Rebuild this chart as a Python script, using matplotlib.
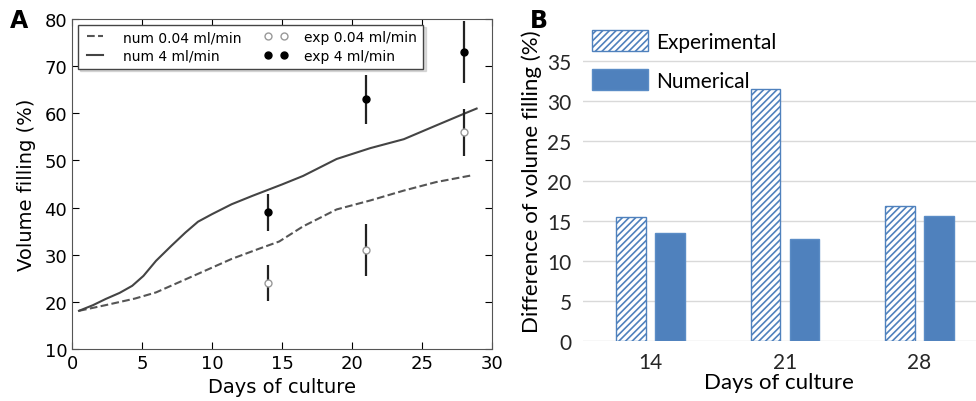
import numpy as np
import matplotlib
matplotlib.use("Agg")
import matplotlib.pyplot as plt
from matplotlib.lines import Line2D

# ---- panel A data ----
num_low_day = [0.5, 2.4, 4.5, 6.0, 7.6, 9.5, 11.4, 13.3, 14.8, 16.5, 18.9, 21.3, 23.7, 26.0, 28.5]
num_low_val = [18.1, 19.3, 20.7, 22.0, 24.1, 26.6, 29.1, 31.2, 32.8, 36.0, 39.6, 41.5, 43.6, 45.4, 46.8]
num_high_day = [0.5, 1.5, 2.4, 3.4, 4.3, 5.1, 6.0, 7.1, 8.1, 9.0, 10.0, 11.4, 12.9, 15.0,
                16.5, 18.9, 21.3, 23.7, 26.0, 28.0, 28.9]
num_high_val = [18.1, 19.3, 20.6, 21.9, 23.4, 25.5, 28.7, 31.9, 34.7, 37.0, 38.6, 40.7, 42.5, 44.9,
                46.7, 50.3, 52.6, 54.5, 57.4, 59.9, 61.0]
exp_day = [14, 21, 28]
exp_low = [24.0, 31.0, 56.0]
exp_low_err = [3.8, 5.6, 5.0]
exp_high = [39.0, 63.0, 73.0]
exp_high_err = [3.9, 5.2, 6.5]

# ---- panel B data ----
days_b = ['14', '21', '28']
diff_exp = [15.5, 31.5, 16.9]
diff_num = [13.5, 12.75, 15.6]

fig = plt.figure(figsize=(9.76, 4.02), dpi=100)

# Panel A
axA = fig.add_axes([0.0738, 0.1294, 0.4303, 0.8209])
axA.plot(num_low_day, num_low_val, '--', color='#555555', lw=1.5)
axA.plot(num_high_day, num_high_val, '-', color='#444444', lw=1.5)
axA.errorbar(exp_day, exp_low, yerr=exp_low_err, fmt='o', ecolor='#222222',
             mfc='white', mec='#999999', ms=5, elinewidth=1.6, capsize=0)
axA.errorbar(exp_day, exp_high, yerr=exp_high_err, fmt='o', ecolor='#222222',
             mfc='black', mec='black', ms=5, elinewidth=1.6, capsize=0)
axA.set_xlim(0, 30)
axA.set_ylim(10, 80)
axA.set_xticks(range(0, 31, 5))
axA.set_yticks(range(10, 81, 10))
axA.tick_params(direction='in', top=True, right=True, labelsize=13, length=5)
for s in axA.spines.values():
    s.set_color('#555555')
axA.set_xlabel('Days of culture', fontsize=14)
axA.set_ylabel('Volume filling (%)', fontsize=14, labelpad=6)

handles = [
    Line2D([], [], ls='--', color='#555555', lw=1.5),
    Line2D([], [], ls='-', color='#444444', lw=1.5),
    Line2D([], [], ls='none', marker='o', mfc='white', mec='#999999', ms=5),
    Line2D([], [], ls='none', marker='o', mfc='black', mec='black', ms=5),
]
labels = ['num 0.04 ml/min', 'num 4 ml/min', 'exp 0.04 ml/min', 'exp 4 ml/min']
axA.legend(handles, labels, ncol=2, loc='upper left', fontsize=10, numpoints=2,
           shadow={'color': '#bbbbbb', 'ox': 2, 'oy': -2}, fancybox=False,
           edgecolor='#444444', framealpha=1, borderaxespad=0.4, columnspacing=1.6,
           handletextpad=1.2, labelspacing=0.35, handlelength=1.7)
fig.text(0.01, 0.93, 'A', fontsize=17, fontweight='bold')

# Panel B
axB = fig.add_axes([0.597, 0.1493, 0.403, 0.796])
x = np.arange(len(days_b))
blue = '#4F81BD'
plt.rcParams['hatch.color'] = blue
plt.rcParams['hatch.linewidth'] = 1.2
axB.bar(x - 0.145, diff_exp, width=0.22, color='white', edgecolor=blue, hatch='/////',
        linewidth=1.0, label='Experimental', zorder=3)
axB.bar(x + 0.145, diff_num, width=0.22, color=blue, edgecolor='#5a8cc6', linewidth=1.0,
        label='Numerical', zorder=3)
axB.set_xlim(-0.505, 2.42)
axB.set_ylim(0, 40)
axB.set_yticks(range(0, 36, 5))
axB.set_xticks(x)
axB.set_xticklabels(days_b)
axB.grid(axis='y', color='#d9d9d9', lw=1.0, zorder=0)
for s in axB.spines.values():
    s.set_visible(False)
axB.tick_params(length=0, labelsize=15, colors='#262626', pad=8)
for t in axB.get_xticklabels() + axB.get_yticklabels():
    t.set_family('Lato')
axB.set_xlabel('Days of culture', fontsize=16, family='Lato', labelpad=0)
axB.set_ylabel('Difference of volume filling (%)', fontsize=16, family='Lato', labelpad=4)
axB.legend(loc='upper left', bbox_to_anchor=(-0.025, 1.03), frameon=False,
           prop={'family': 'Lato', 'size': 15}, handlelength=2.7,
           handleheight=1.15, labelspacing=0.85, handletextpad=0.4)
fig.text(0.543, 0.93, 'B', fontsize=17, fontweight='bold')

fig.savefig('out.png', dpi=100)
